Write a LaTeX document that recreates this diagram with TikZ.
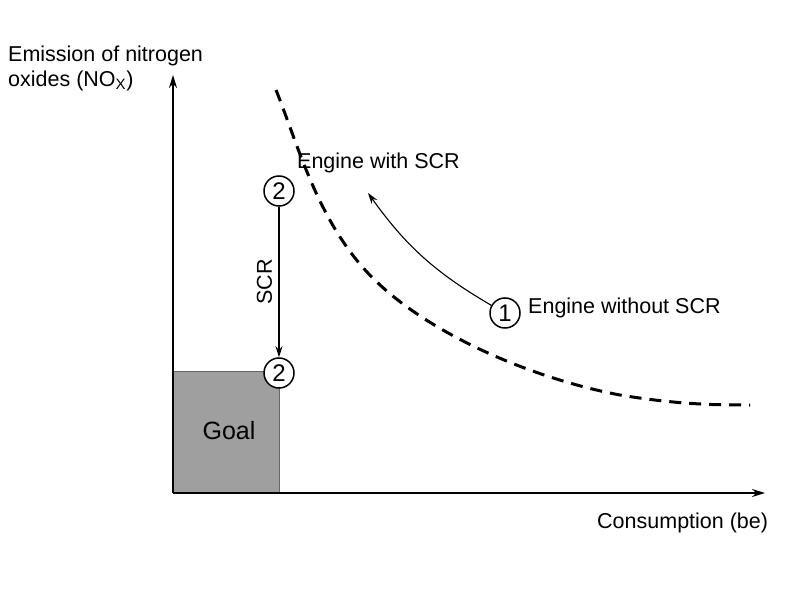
\documentclass[tikz,border=0pt]{standalone}
\usepackage{fontspec}
\setmainfont{Liberation Sans}
\usetikzlibrary{arrows.meta}
\begin{document}
\begin{tikzpicture}[x=1pt,y=-1pt,
  every node/.style={font=\fontsize{21.5}{25}\selectfont},
  num/.style={circle,draw,line width=1.5pt,fill=white,minimum size=30pt,inner sep=0pt,font=\fontsize{24}{27}\selectfont},
  axis/.style={line width=1.8pt,-{Stealth[length=13pt,width=8pt]}},
  arr/.style={line width=1.1pt,-{Stealth[length=11pt,width=7pt]}}]
\useasboundingbox (0,0) rectangle (800,612);
\fill[gray!75!white,draw=gray!80!black] (173,371) rectangle (279,493);
\node[font=\fontsize{25}{29}\selectfont] (goal) at (229,431) {Goal};
\coordinate (o) at (173,493);
\coordinate (ytop) at (173,75);
\coordinate (xend) at (765,493);
\draw[axis] (o) -- (ytop);
\draw[axis] (o) -- (xend);
\node[align=left,anchor=north west,inner sep=0pt] (ylab) at (8,46) {Emission of nitrogen\\oxides (NO\textsubscript{X})};
\node[anchor=west,inner sep=0pt] (xlab) at (597,523) {Consumption (be)};
\draw[line width=3pt,dash pattern=on 12pt off 8pt] (276,90) .. controls (300,150) and (320,230) .. (380,285)
  .. controls (440,340) and (540,380) .. (620,395) .. controls (680,405) and (720,405) .. (750,405);
\node[num] (a) at (279,191) {2};
\node[num] (b) at (279,373) {2};
\node[num] (c) at (505,313) {1};
\draw[arr] (a) -- (b) node[midway,left=3pt,rotate=90,anchor=south] {SCR};
\coordinate (ce) at (368,193);
\draw[arr] (c) to[bend left=12] (ce);
\node[anchor=west,inner sep=0pt] at (528,308) {Engine without SCR};
\node[anchor=west,inner sep=0pt] at (297,163) {Engine with SCR};
\end{tikzpicture}
\end{document}
